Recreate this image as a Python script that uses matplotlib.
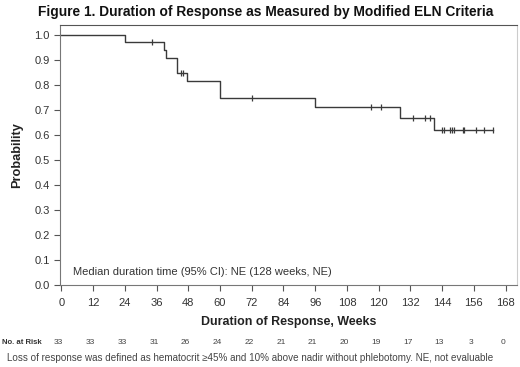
import numpy as np
import matplotlib
matplotlib.use("Agg")
import matplotlib.pyplot as plt
import matplotlib.transforms as mtransforms

plt.rcParams['font.family'] = ['Liberation Sans', 'DejaVu Sans']

# Kaplan-Meier steps
step_weeks = [0, 24, 38.8, 39.5, 43.6, 47.6, 60, 96, 128, 140.9]
step_surv = [1.0, 0.970, 0.939, 0.909, 0.848, 0.815, 0.747, 0.711, 0.669, 0.621]
end_week = 163.3
censor_weeks = [34.4, 45.1, 46.1, 72.0, 117.1, 120.9, 133.1, 137.5, 139.4,
                144.0, 144.7, 147.0, 147.7, 148.5, 151.8, 152.1, 156.8, 159.9, 163.3]

risk_weeks = [0, 12, 24, 36, 48, 60, 72, 84, 96, 108, 120, 132, 144, 156, 168]
at_risk = [33, 33, 33, 31, 26, 24, 22, 21, 21, 20, 19, 17, 13, 3, 0]

x_ticks = list(range(0, 169, 12))
y_ticks = [0.0, 0.1, 0.2, 0.3, 0.4, 0.5, 0.6, 0.7, 0.8, 0.9, 1.0]

W, H = 520, 367
fig = plt.figure(figsize=(W/100, H/100), dpi=100)
ax = fig.add_axes([60/W, 1 - 285/H, (517 - 60)/W, (285 - 25)/H])

line_col = '#3a3a3a'
xs = list(step_weeks) + [end_week]
ys = list(step_surv) + [step_surv[-1]]
ax.step(xs, ys, where='post', color=line_col, lw=1.0)

# censor marks on the curve
idx = np.searchsorted(step_weeks, censor_weeks, side='right') - 1
cens_y = np.array(step_surv)[idx]
ax.plot(censor_weeks, cens_y, ls='none', marker='|', ms=5, mew=0.9, color=line_col)

ax.set_xlim(-0.5, 172.3)
ax.set_ylim(0, 1.039)
ax.set_xticks(x_ticks)
ax.set_yticks(y_ticks)
ax.set_yticklabels(['%.1f' % v for v in y_ticks])
ax.tick_params(axis='both', direction='out', length=4, width=0.8,
               colors='#555555', labelcolor='#333333', labelsize=8)
ax.tick_params(axis='x', pad=5)
for s in ax.spines.values():
    s.set_color('#777777')
    s.set_linewidth(0.8)
ax.spines['right'].set_color('#cccccc')
ax.spines['top'].set_color('#555555')

ax.set_xlabel('Duration of Response, Weeks', fontsize=8.9, fontweight='bold',
              color='#222222', labelpad=6)
ax.set_ylabel('Probability', fontsize=9.2, fontweight='bold', color='#222222',
              labelpad=8)

fig.text(73/W, 1 - 272/H, 'Median duration time (95% CI): NE (128 weeks, NE)',
         fontsize=8, color='#333333', va='center')

fig.text(266/W, 1 - 12/H,
         'Figure 1. Duration of Response as Measured by Modified ELN Criteria',
         ha='center', va='center', fontsize=9.9, fontweight='bold', color='#111111')

# numbers at risk
trans = mtransforms.blended_transform_factory(ax.transData, fig.transFigure)
ry = 1 - 343/H
fig.text(2/W, ry, 'No. at Risk', fontsize=5.6, fontweight='bold',
         color='#333333', va='center')
for w, n in zip(risk_weeks, at_risk):
    ax.text(w - 1, ry, str(n), transform=trans, ha='center', va='center',
            fontsize=6.0, color='#444444', clip_on=False)

fig.text(7/W, 1 - 358/H,
         'Loss of response was defined as hematocrit \u226545% and 10% above nadir '
         'without phlebotomy. NE, not evaluable',
         fontsize=7.15, color='#444444', va='center')

fig.savefig('out.png', dpi=100)
